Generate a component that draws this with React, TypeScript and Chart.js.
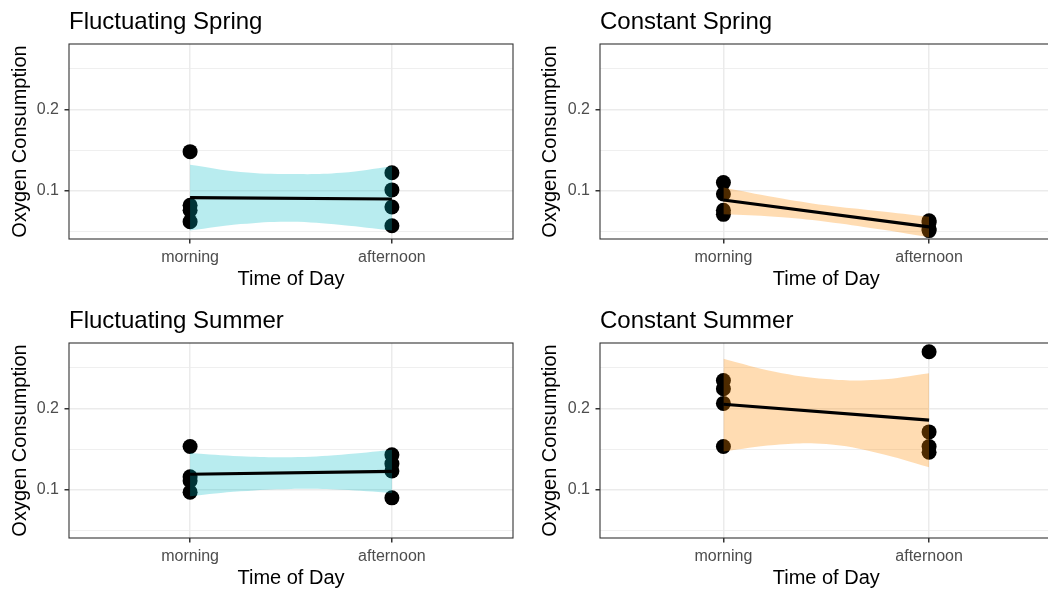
import React, { useEffect, useRef } from 'react';
import { Chart, registerables } from 'chart.js';

Chart.register(...registerables);

// ---------- data ----------
const CATEGORIES = ['morning', 'afternoon'];
const CATEGORY_X = [1, 2];
const Y_TICKS = [0.05, 0.1, 0.15, 0.2, 0.25];
const Y_LABELED_TICKS = [0.1, 0.2];
const Y_MIN = 0.0407;
const Y_MAX = 0.2802;
const X_MIN = 0.4;
const X_MAX = 2.6;
const RIBBON_X = [1, 1.25, 1.5, 1.75, 2];

const X_TITLE = 'Time of Day';
const Y_TITLE = 'Oxygen Consumption';

// Fluctuating Spring
const FS_TITLE = 'Fluctuating Spring';
const FS_MORNING = [0.148, 0.082, 0.076, 0.062];
const FS_AFTERNOON = [0.122, 0.101, 0.080, 0.057];
const FS_FIT = [0.0914, 0.0898];
const FS_UPPER = [0.132, 0.123, 0.1205, 0.122, 0.130];
const FS_LOWER = [0.051, 0.059, 0.062, 0.058, 0.051];

// Constant Spring
const CS_TITLE = 'Constant Spring';
const CS_MORNING = [0.110, 0.096, 0.076, 0.071];
const CS_AFTERNOON = [0.063, 0.061, 0.053, 0.051];
const CS_FIT = [0.0886, 0.0555];
const CS_UPPER = [0.104, 0.092, 0.082, 0.075, 0.068];
const CS_LOWER = [0.071, 0.068, 0.062, 0.053, 0.043];

// Fluctuating Summer
const FSU_TITLE = 'Fluctuating Summer';
const FSU_MORNING = [0.153, 0.116, 0.111, 0.097];
const FSU_AFTERNOON = [0.143, 0.132, 0.123, 0.090];
const FSU_FIT = [0.119, 0.1226];
const FSU_UPPER = [0.145, 0.141, 0.140, 0.143, 0.149];
const FSU_LOWER = [0.092, 0.098, 0.101, 0.100, 0.096];

// Constant Summer
const CSU_TITLE = 'Constant Summer';
const CSU_MORNING = [0.234, 0.224, 0.206, 0.153];
const CSU_AFTERNOON = [0.2695, 0.171, 0.153, 0.146];
const CSU_FIT = [0.205, 0.1855];
const CSU_UPPER = [0.261, 0.245, 0.236, 0.235, 0.243];
const CSU_LOWER = [0.147, 0.155, 0.156, 0.145, 0.1275];

// ---------- styles ----------
const FONT = "'Liberation Sans', Arial, Helvetica, sans-serif";
const TEAL_FILL = 'rgba(0, 188, 196, 0.28)';
const ORANGE_FILL = 'rgba(255, 140, 0, 0.30)';

const PANELS = [
  { title: FS_TITLE, morning: FS_MORNING, afternoon: FS_AFTERNOON, fit: FS_FIT, upper: FS_UPPER, lower: FS_LOWER, fill: TEAL_FILL,
    left: 0, top: 0, width: 524, height: 294, yWidth: 69, padRight: 11 },
  { title: CS_TITLE, morning: CS_MORNING, afternoon: CS_AFTERNOON, fit: CS_FIT, upper: CS_UPPER, lower: CS_LOWER, fill: ORANGE_FILL,
    left: 530, top: 0, width: 530, height: 294, yWidth: 70, padRight: 7.5 },
  { title: FSU_TITLE, morning: FSU_MORNING, afternoon: FSU_AFTERNOON, fit: FSU_FIT, upper: FSU_UPPER, lower: FSU_LOWER, fill: TEAL_FILL,
    left: 0, top: 298.7, width: 524, height: 294, yWidth: 69, padRight: 11 },
  { title: CSU_TITLE, morning: CSU_MORNING, afternoon: CSU_AFTERNOON, fit: CSU_FIT, upper: CSU_UPPER, lower: CSU_LOWER, fill: ORANGE_FILL,
    left: 530, top: 298.7, width: 530, height: 294, yWidth: 70, padRight: 7.5 },
];

const panelBorder = {
  id: 'panelBorder',
  afterDatasetsDraw(chart: any) {
    const { ctx, chartArea: a } = chart;
    ctx.save();
    ctx.strokeStyle = '#333333';
    ctx.lineWidth = 1.1;
    ctx.strokeRect(a.left, a.top, a.right - a.left, a.bottom - a.top);
    ctx.restore();
  },
};

function Panel({ p }: { p: any }) {
  const ref = useRef<HTMLCanvasElement | null>(null);
  useEffect(() => {
    if (!ref.current) return;
    const points = [
      ...p.morning.map((y: number) => ({ x: CATEGORY_X[0], y })),
      ...p.afternoon.map((y: number) => ({ x: CATEGORY_X[1], y })),
    ];
    const chart = new Chart(ref.current, {
      type: 'scatter',
      data: {
        datasets: [
          {
            type: 'line',
            label: 'fit',
            data: CATEGORY_X.map((x, i) => ({ x, y: p.fit[i] })),
            borderColor: '#000000',
            borderWidth: 3.2,
            pointRadius: 0,
            fill: false,
            order: 0,
          },
          {
            type: 'line',
            label: 'upper',
            data: RIBBON_X.map((x, i) => ({ x, y: p.upper[i] })),
            borderColor: 'rgba(0,0,0,0)',
            borderWidth: 1,
            pointRadius: 0,
            tension: 0.4,
            fill: '+1',
            backgroundColor: p.fill,
            order: 1,
          },
          {
            type: 'line',
            label: 'lower',
            data: RIBBON_X.map((x, i) => ({ x, y: p.lower[i] })),
            borderColor: 'rgba(0,0,0,0)',
            borderWidth: 1,
            pointRadius: 0,
            tension: 0.4,
            fill: false,
            order: 2,
          },
          {
            type: 'scatter',
            label: 'obs',
            data: points,
            pointRadius: 7.5,
            pointBackgroundColor: '#000000',
            pointBorderWidth: 0,
            backgroundColor: '#000000',
            borderWidth: 0,
            order: 3,
          },
        ],
      } as any,
      options: {
        responsive: false,
        animation: false,
        events: [],
        layout: { padding: { left: 0, right: p.padRight, top: 0, bottom: 0 } },
        plugins: {
          legend: { display: false },
          tooltip: { enabled: false },
          title: {
            display: true,
            text: p.title,
            align: 'start',
            fullSize: false,
            color: '#000000',
            font: { family: FONT, size: 24, weight: 'normal' },
            padding: { top: 8.3, bottom: 6.9 },
          },
        },
        scales: {
          x: {
            type: 'linear',
            min: X_MIN,
            max: X_MAX,
            afterFit: (s: any) => { s.height = 55; },
            afterBuildTicks: (s: any) => { s.ticks = CATEGORY_X.map((v) => ({ value: v })); },
            ticks: {
              callback: (v: any) => { const i = CATEGORY_X.indexOf(v); return i >= 0 ? CATEGORIES[i] : ''; },
              color: '#4d4d4d',
              font: { family: FONT, size: 16 },
              padding: 4,
              maxRotation: 0,
              autoSkip: false,
            },
            grid: { color: '#ebebeb', lineWidth: 1.5, tickLength: 4.5, tickColor: '#333333', drawTicks: true },
            border: { display: false },
            title: {
              display: true,
              text: X_TITLE,
              color: '#000000',
              font: { family: FONT, size: 20 },
              padding: { top: 0, bottom: 3 },
            },
          },
          y: {
            type: 'linear',
            min: Y_MIN,
            max: Y_MAX,
            afterFit: (s: any) => { s.width = p.yWidth; },
            afterBuildTicks: (s: any) => { s.ticks = Y_TICKS.map((v) => ({ value: v })); },
            ticks: {
              callback: (v: any) => (Y_LABELED_TICKS.includes(v) ? String(v) : ''),
              color: '#4d4d4d',
              font: { family: FONT, size: 16 },
              padding: 5.5,
              autoSkip: false,
            },
            grid: {
              color: '#ebebeb',
              lineWidth: (c: any) => (c.tick && Y_LABELED_TICKS.includes(c.tick.value) ? 1.5 : 0.8),
              tickLength: 4.5,
              tickColor: (c: any) => (c.tick && Y_LABELED_TICKS.includes(c.tick.value) ? '#333333' : 'rgba(0,0,0,0)'),
              drawTicks: true,
            },
            border: { display: false },
            title: {
              display: true,
              text: Y_TITLE,
              color: '#000000',
              font: { family: FONT, size: 20 },
              padding: { top: 8.7, bottom: 0 },
            },
          },
        },
      } as any,
      plugins: [panelBorder],
    });
    return () => chart.destroy();
  }, [p]);
  return (
    <canvas
      ref={ref}
      width={p.width}
      height={p.height}
      style={{ position: 'absolute', left: p.left, top: p.top, width: p.width, height: p.height }}
    />
  );
}

export default function App() {
  return (
    <div style={{ position: 'fixed', left: 0, top: 0, width: 1048, height: 589, overflow: 'hidden', background: '#ffffff' }}>
      {PANELS.map((p) => (
        <Panel key={p.title} p={p} />
      ))}
    </div>
  );
}
